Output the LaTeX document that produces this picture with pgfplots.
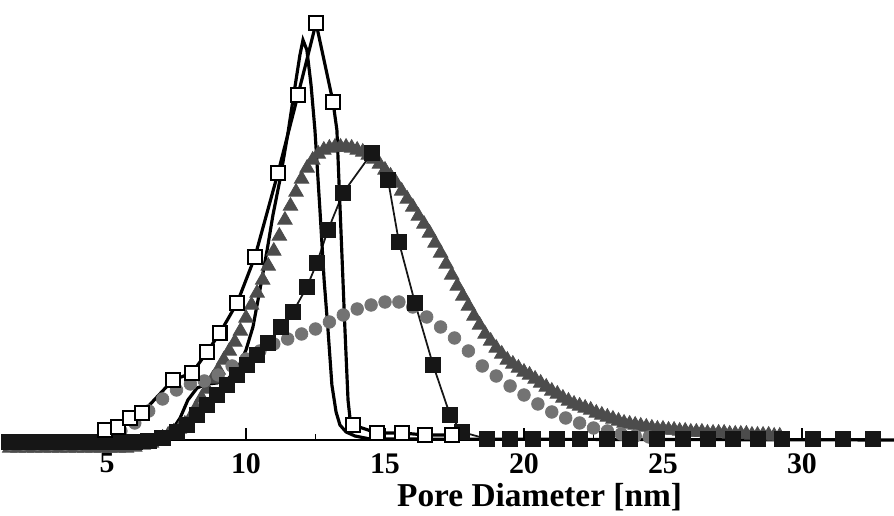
\documentclass[border=0pt]{standalone}
\usepackage{fontspec}
\setmainfont{Liberation Serif}
\usepackage{pgfplots}
\pgfplotsset{compat=1.18}
\definecolor{trigray}{RGB}{76,76,76}
\definecolor{dotgray}{RGB}{115,115,115}
\definecolor{sqblack}{RGB}{22,22,22}

\begin{document}
\begin{tikzpicture}
\begin{axis}[
  scale only axis, width=17.72cm, height=8.8cm,
  xmin=1.439, xmax=33.31, ymin=0, ymax=440,
  axis x line*=bottom, axis y line=none,
  axis line style={line width=1.6pt, black},
  xtick={5,10,...,30}, minor x tick num=1,
  tick align=inside, major tick length=0.24cm, minor tick length=0.12cm,
  tick style={line width=0.6pt, black},
  /pgf/number format/assume math mode=true,
  xticklabel style={font=\bfseries\fontsize{17}{17}\selectfont, inner sep=0pt, anchor=north, yshift=-0.26cm},
  xlabel={Pore Diameter [nm]},
  xlabel style={font=\bfseries\fontsize{19}{19}\selectfont, inner sep=0pt, at={(axis description cs:0.6,0)}, anchor=north, yshift=-0.86cm},
  clip=false,
]
% dark gray triangles
\addplot[only marks, mark=triangle*, mark size=4.8pt, color=trigray] coordinates {
(1.5,-8)(1.8,-8)(2.1,-8)(2.4,-8)(2.7,-8)(3.0,-8)(3.3,-8)(3.6,-8)(3.9,-8)(4.2,-8)(4.5,-8)(4.8,-8)(5.1,-8)(5.4,-8)(5.7,-8)(6.0,-7)(6.3,-5)
(6.6,-3)(6.8,0)(7.0,2)(7.2,5)(7.4,8)(7.6,11)(7.8,16)(8.0,22)(8.2,32)(8.4,42)(8.6,51)(8.8,61)(9.0,70)(9.2,80)(9.4,89)(9.6,98)(9.8,109)
(10.0,122)(10.2,135)(10.4,147)(10.6,160)(10.8,174)(11.0,189)(11.2,204)(11.4,220)(11.6,234)(11.8,248)(12.0,261)(12.2,272)(12.4,280)(12.6,286)(12.8,290)
(13.0,292)(13.2,293)(13.4,293)(13.6,293)(13.8,292)(14.0,290)(14.2,288)(14.4,285)(14.6,281)(14.8,276)(15.0,270)(15.2,264)(15.4,257)(15.6,249)(15.8,241)
(16.0,233)(16.2,224)(16.4,216)(16.6,207)(16.8,197)(17.0,187)(17.2,176)(17.4,165)(17.6,154)(17.8,144)(18.0,134)(18.2,124)(18.4,115)(18.6,106)(18.8,99)
(19.0,92)(19.2,86)(19.4,80)(19.6,76)(19.8,72)(20.0,68)(20.2,65)(20.4,61)(20.6,57)(20.8,53)(21.0,49)(21.2,46)(21.4,42)(21.6,39)(21.8,36)
(22.0,34)(22.2,32)(22.4,30)(22.6,27)(22.8,25)(23.0,23)(23.2,21)(23.4,19)(23.6,17)(23.8,16)(24.0,15)(24.2,14)(24.4,13)(24.6,12)(24.8,11)
(25.0,11)(25.2,10)(25.4,10)(25.6,9)(25.8,9)(26.0,8)(26.2,8)(26.4,8)(26.6,7)(26.8,7)(27.0,7)(27.2,7)(27.4,6)(27.6,6)(27.8,6)
(28.0,6)(28.2,5)(28.4,5)(28.6,5)(28.8,5)(29.0,4)(29.2,4)
};
% gray circles
\addplot[only marks, mark=*, mark size=3.6pt, color=dotgray] coordinates {
(1.5,-4)(2.0,-4)(2.5,-4)(3.0,-4)(3.5,-4)(4.0,-4)(4.5,-3)
(5.0,3)(5.5,9)(6.0,17)(6.5,29)(7.0,41)(7.5,50)(8.0,56)(8.5,59)(9.0,65)(9.5,74)(10.0,81)(10.5,89)(11.0,96)(11.5,101)(12.0,106)(12.5,111)
(13.0,118)(13.5,125)(14.0,131)(14.5,135)(15.0,138)(15.5,138)(16.0,133)(16.5,123)(17.0,113)(17.5,102)(18.0,89)(18.5,74)(19.0,64)(19.5,54)
(20.0,45)(20.5,36)(21.0,28)(21.5,22)(22.0,17)(22.5,12)(23.0,9)(23.5,6)(24.0,4)(24.5,3)
};
% black squares
\addplot[sqblack, line width=1pt, mark=square*, mark size=4.2pt, mark options={solid, fill=sqblack}] coordinates {
(1.5,-2)(2.0,-2)(2.5,-2)(3.0,-2)(3.5,-2)(4.0,-2)(4.5,-2)(5.0,-2)(5.5,-2)(6.0,-2)(6.5,-1)(7.0,2)(7.52,8)(7.88,15)(8.24,25)(8.60,35)(8.96,45)(9.32,55)(9.68,65)(10.04,75)(10.40,85)(10.79,97)(11.26,113)(11.69,128)(12.19,153)(12.55,177)(12.95,210)(13.49,247)(14.53,287)(15.11,260)(15.50,198)(16.08,137)(16.73,75)(17.34,25)(17.77,8)(18.67,1)(19.50,1)(20.32,1)(21.19,1)(22.01,1)(22.99,1)(23.81,1)(24.78,1)(25.72,1)(26.62,1)(27.52,1)(28.42,1)(29.28,1)(30.40,1)(31.47,1)(32.55,1)
};
% plain black line
\addplot[black, line width=1.8pt, no marks] coordinates {
(1.44,0)(6.19,1)(6.91,3)(7.34,10)(7.63,22)(7.91,40)(8.24,52)(8.60,56)(8.96,57)(9.35,61)(9.71,72)(10.00,90)(10.25,113)(10.50,150)(10.76,190)(10.97,225)(11.22,260)(11.51,307)(11.76,353)(11.94,385)(12.05,400)(12.19,390)(12.34,355)(12.48,310)(12.66,230)(12.81,160)(12.95,110)(13.09,55)(13.24,28)(13.38,15)(13.60,8)(13.92,4)(14.46,1)(33.31,0)
};
% open squares: line, then marks
\addplot[black, line width=1.8pt, no marks] coordinates {
(4.93,10)(5.40,13)(5.83,22)(6.26,27)(7.37,60)(8.06,67)(8.60,88)(9.06,107)(9.68,137)(10.32,183)(11.15,267)(11.87,345)(12.52,417)(13.13,338)(13.27,310)(13.56,110)(13.67,40)(13.74,22)(13.85,15)(14.71,7)(15.61,7)(16.44,5)(17.41,5)
};
\addplot[only marks, mark=square*, mark size=3.9pt, mark options={fill=white, draw=black, line width=1.4pt}] coordinates {
(4.93,10)(5.40,13)(5.83,22)(6.26,27)(7.37,60)(8.06,67)(8.60,88)(9.06,107)(9.68,137)(10.32,183)(11.15,267)(11.87,345)(12.52,417)(13.13,338)(13.85,15)(14.71,7)(15.61,7)(16.44,5)(17.41,5)
};
\coordinate (bl) at (axis cs:1.151,-76);
\coordinate (tr) at (axis cs:33.31,440);
\end{axis}
\pgfresetboundingbox
\useasboundingbox (bl) rectangle (tr);
\end{tikzpicture}
\end{document}
